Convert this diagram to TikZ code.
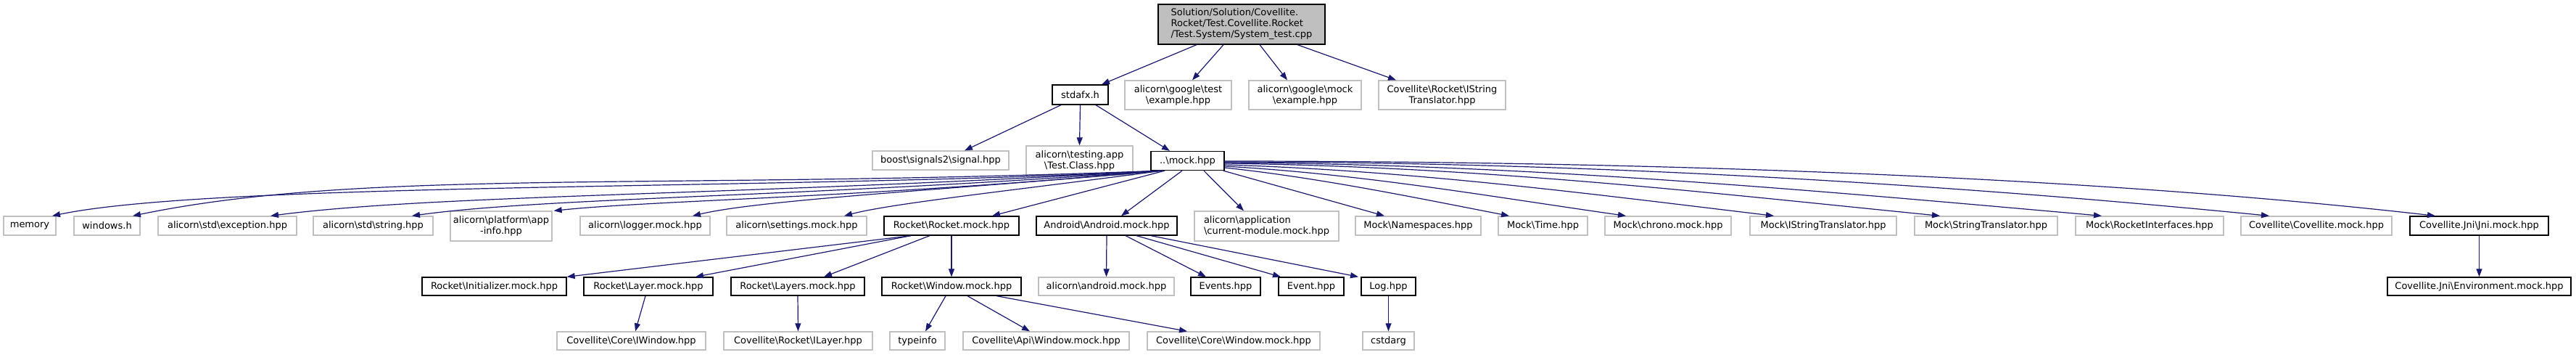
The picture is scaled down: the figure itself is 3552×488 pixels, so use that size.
\documentclass[tikz,border=0pt]{standalone}
\usepackage{fontspec}
\setmainfont{DejaVu Sans}
\usetikzlibrary{arrows.meta}
\definecolor{edgeblue}{HTML}{191970}
\definecolor{extgray}{HTML}{C0C0C0}
\definecolor{rootgray}{HTML}{BFBFBF}
\newcommand\fs{\fontsize{13}{15}\selectfont}
\newcommand\bs{\textbackslash}
\tikzset{
  base/.style={rectangle, inner sep=0pt, font=\fs, align=center, fill=white},
  doc/.style={base, draw=black, line width=1.3pt},
  ext/.style={base, draw=extgray, line width=1.3pt},
  rootbox/.style={base, draw=black, fill=rootgray, line width=1.3pt, align=left},
  edge/.style={draw=edgeblue, line width=1.2pt, -{Triangle[length=11pt,width=8pt]}},
}
\begin{document}
\begin{tikzpicture}[x=1pt,y=-1pt]
\fill[white] (0,0) rectangle (3552,488);
\useasboundingbox (0,0) rectangle (3552,488);
% row 0
\node[rootbox, minimum width=230pt, minimum height=55pt] (root) at (1712,33.5) {Solution/Solution/Covellite.\\Rocket/Test.Covellite.Rocket\\/Test.System/System\_test.cpp};
% row 1
\node[doc, minimum width=77pt, minimum height=27pt] (stdafx) at (1489.5,130.5) {stdafx.h};
\node[ext, minimum width=147pt, minimum height=40pt] (gtest) at (1624.5,131) {alicorn\bs google\bs test\\\bs example.hpp};
\node[ext, minimum width=155pt, minimum height=40pt] (gmock) at (1799.5,131) {alicorn\bs google\bs mock\\\bs example.hpp};
\node[ext, minimum width=175pt, minimum height=40pt] (covistr) at (1988.5,131) {Covellite\bs Rocket\bs IString\\Translator.hpp};
% row 2
\node[ext, minimum width=188pt, minimum height=26pt] (boost) at (1297,221) {boost\bs signals2\bs signal.hpp};
\node[ext, minimum width=147pt, minimum height=40pt] (testapp) at (1488.5,221) {alicorn\bs testing.app\\\bs Test.Class.hpp};
\node[doc, minimum width=101pt, minimum height=26pt] (mock) at (1637.5,221.5) {..\bs mock.hpp};
% row 3
\node[ext, minimum width=72pt, minimum height=26pt] (memory) at (41,311) {memory};
\node[ext, minimum width=91pt, minimum height=26pt] (windows) at (147.5,311) {windows.h};
\node[ext, minimum width=191pt, minimum height=26pt] (exception) at (313.5,311) {alicorn\bs std\bs exception.hpp};
\node[ext, minimum width=165pt, minimum height=26pt] (string) at (514.5,311) {alicorn\bs std\bs string.hpp};
\node[ext, minimum width=140pt, minimum height=41pt] (platform) at (691,311.5) {alicorn\bs platform\bs app\\-info.hpp};
\node[ext, minimum width=179pt, minimum height=26pt] (logger) at (889.5,311) {alicorn\bs logger.mock.hpp};
\node[ext, minimum width=193pt, minimum height=26pt] (settings) at (1098.5,311) {alicorn\bs settings.mock.hpp};
\node[doc, minimum width=186pt, minimum height=26pt] (rocket) at (1312,311) {Rocket\bs Rocket.mock.hpp};
\node[doc, minimum width=194pt, minimum height=26pt] (android) at (1526,311) {Android\bs Android.mock.hpp};
\node[ext, minimum width=199pt, minimum height=41pt, align=left] (curmod) at (1746.5,311.5) {alicorn\bs application\\\bs current-module.mock.hpp};
\node[ext, minimum width=173pt, minimum height=26pt] (namespaces) at (1955.5,311) {Mock\bs Namespaces.hpp};
\node[ext, minimum width=123pt, minimum height=26pt] (time) at (2127.5,311) {Mock\bs Time.hpp};
\node[ext, minimum width=174pt, minimum height=26pt] (chrono) at (2300,311) {Mock\bs chrono.mock.hpp};
\node[ext, minimum width=202pt, minimum height=26pt] (mistr) at (2514,311) {Mock\bs IStringTranslator.hpp};
\node[ext, minimum width=197pt, minimum height=26pt] (strtr) at (2738.5,311) {Mock\bs StringTranslator.hpp};
\node[ext, minimum width=204pt, minimum height=26pt] (rocketif) at (2964,311) {Mock\bs RocketInterfaces.hpp};
\node[ext, minimum width=208pt, minimum height=26pt] (covmock) at (3194,311) {Covellite\bs Covellite.mock.hpp};
\node[doc, minimum width=191pt, minimum height=26pt] (jni) at (3418.5,311) {Covellite.Jni\bs Jni.mock.hpp};
% row 4
\node[doc, minimum width=199pt, minimum height=25pt] (initializer) at (681.5,394.5) {Rocket\bs Initializer.mock.hpp};
\node[doc, minimum width=178pt, minimum height=25pt] (layer) at (894,394.5) {Rocket\bs Layer.mock.hpp};
\node[doc, minimum width=184pt, minimum height=25pt] (layers) at (1100,394.5) {Rocket\bs Layers.mock.hpp};
\node[doc, minimum width=192pt, minimum height=25pt] (window) at (1312,394.5) {Rocket\bs Window.mock.hpp};
\node[ext, minimum width=187pt, minimum height=25pt] (andmock) at (1525.5,394.5) {alicorn\bs android.mock.hpp};
\node[doc, minimum width=96pt, minimum height=25pt] (events) at (1690,394.5) {Events.hpp};
\node[doc, minimum width=90pt, minimum height=25pt] (event) at (1808,394.5) {Event.hpp};
\node[doc, minimum width=75pt, minimum height=25pt] (log) at (1914.5,394.5) {Log.hpp};
\node[doc, minimum width=253pt, minimum height=25pt] (environment) at (3418.5,394.5) {Covellite.Jni\bs Environment.mock.hpp};
% row 5
\node[ext, minimum width=205pt, minimum height=25pt] (iwindow) at (870.5,469.5) {Covellite\bs Core\bs IWindow.hpp};
\node[ext, minimum width=205pt, minimum height=25pt] (ilayer) at (1100.5,469.5) {Covellite\bs Rocket\bs ILayer.hpp};
\node[ext, minimum width=76pt, minimum height=25pt] (typeinfo) at (1265,469.5) {typeinfo};
\node[ext, minimum width=229pt, minimum height=25pt] (apiwindow) at (1442.5,469.5) {Covellite\bs Api\bs Window.mock.hpp};
\node[ext, minimum width=238pt, minimum height=25pt] (corewindow) at (1701,469.5) {Covellite\bs Core\bs Window.mock.hpp};
\node[ext, minimum width=71pt, minimum height=25pt] (cstdarg) at (1914.5,469.5) {cstdarg};
% edges from root
\draw[edge] ([xshift=-62pt]root.south) -- ([xshift=29.5pt]stdafx.north);
\draw[edge] ([xshift=-25pt]root.south) -- ([xshift=19.5pt]gtest.north);
\draw[edge] ([xshift=25pt]root.south) -- ([xshift=-24.5pt]gmock.north);
\draw[edge] ([xshift=77pt]root.south) -- ([xshift=-63.5pt]covistr.north);
% edges from stdafx
\draw[edge] ([xshift=-26.5pt]stdafx.south) -- ([xshift=33pt]boost.north);
\draw[edge] (stdafx.south) -- (testapp.north);
\draw[edge] ([xshift=21.5pt]stdafx.south) -- ([xshift=-24.5pt]mock.north);
% edges from mock, leftwards
\draw[edge] ([xshift=-38pt]mock.south) .. controls (1100,262) and (300,250) .. ([xshift=31pt]memory.north);
\draw[edge] ([xshift=-38pt]mock.south) .. controls (900,262) and (500,232) .. ([xshift=35.5pt]windows.north);
\draw[edge] ([xshift=-37pt]mock.south) .. controls (1000,270) and (600,268) .. ([xshift=59.5pt]exception.north);
\draw[edge] ([xshift=-37pt]mock.south) .. controls (1100,272) and (750,272) .. ([xshift=53.5pt]string.north);
\draw[edge] ([xshift=-36pt]mock.south) .. controls (1200,272) and (900,276) .. ([xshift=2pt]platform.north east);
\draw[edge] ([xshift=-36pt]mock.south) .. controls (1300,262) and (1050,275) .. ([xshift=65.5pt]logger.north);
\draw[edge] ([xshift=-35pt]mock.south) .. controls (1400,262) and (1230,280) .. ([xshift=65.5pt]settings.north);
\draw[edge] ([xshift=-31.5pt]mock.south) -- ([xshift=56pt]rocket.north);
\draw[edge] ([xshift=-7.5pt]mock.south) -- ([xshift=20pt]android.north);
\draw[edge] ([xshift=22.5pt]mock.south) -- ([xshift=-31.5pt]curmod.north);
\draw[edge] ([xshift=-2pt]mock.south east) -- ([xshift=-46.5pt]namespaces.north);
% edges from mock, rightwards
\draw[edge] ([yshift=-9.5pt]mock.east) .. controls (1820,245) and (1950,272) .. ([xshift=-46.5pt]time.north);
\draw[edge] ([yshift=-7.5pt]mock.east) .. controls (1880,240) and (2050,270) .. ([xshift=-58pt]chrono.north);
\draw[edge] ([yshift=-5.5pt]mock.east) .. controls (1950,235) and (2200,268) .. ([xshift=-68pt]mistr.north);
\draw[edge] ([yshift=-3.5pt]mock.east) .. controls (2050,230) and (2350,265) .. ([xshift=-63.5pt]strtr.north);
\draw[edge] ([yshift=-2.5pt]mock.east) .. controls (2100,226) and (2500,262) .. ([xshift=-66pt]rocketif.north);
\draw[edge] ([yshift=-1.5pt]mock.east) .. controls (2200,223) and (2700,255) .. ([xshift=-65pt]covmock.north);
\draw[edge] ([yshift=-0.5pt]mock.east) .. controls (2300,222) and (2900,245) .. ([xshift=-60.5pt]jni.north);
% edges from Rocket.mock
\draw[edge] ([xshift=-56pt]rocket.south) -- (initializer.north east);
\draw[edge] ([xshift=-56pt]rocket.south) -- ([xshift=65pt]layer.north);
\draw[edge] ([xshift=-30pt]rocket.south) -- ([xshift=36pt]layers.north);
\draw[edge] (rocket.south) -- (window.north);
% edges from Android.mock
\draw[edge] (android.south) -- (andmock.north);
\draw[edge] ([xshift=26pt]android.south) -- ([xshift=-27pt]events.north);
\draw[edge] ([xshift=41pt]android.south) -- ([xshift=-42pt]event.north);
\draw[edge] ([xshift=61pt]android.south) -- ([xshift=-41.5pt]log.north);
% lower edges
\draw[edge] ([xshift=-4pt]layer.south) -- ([xshift=5.5pt]iwindow.north);
\draw[edge] (layers.south) -- (ilayer.north);
\draw[edge] ([xshift=-8pt]window.south) -- ([xshift=11pt]typeinfo.north);
\draw[edge] ([xshift=22pt]window.south) -- ([xshift=-22.5pt]apiwindow.north);
\draw[edge] ([xshift=62pt]window.south) -- ([xshift=-64pt]corewindow.north);
\draw[edge] (log.south) -- (cstdarg.north);
\draw[edge] (jni.south) -- (environment.north);
\end{tikzpicture}
\end{document}
